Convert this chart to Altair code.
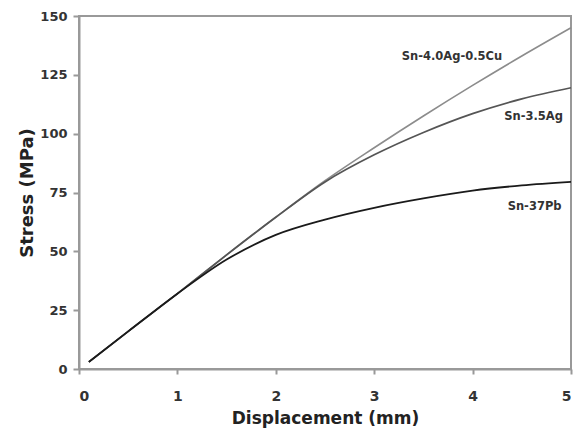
import altair as alt
import pandas as pd

# Data
disp = [0.1, 0.5, 1.0, 1.5, 2.0, 2.5, 3.0, 3.5, 4.0, 4.5, 5.0]
sac = [3, 16, 32, 48.5, 64.5, 80, 94, 107.5, 120.5, 133, 145]
snag = [3, 16, 32, 48.5, 64.5, 79.5, 91, 100.5, 108.5, 114.8, 119.5]
snpb = [3, 16, 32, 46.5, 57, 63.5, 68.5, 72.5, 75.8, 78, 79.5]

series_names = ["Sn-4.0Ag-0.5Cu", "Sn-3.5Ag", "Sn-37Pb"]
series_colors = ["#8c8c8c", "#555555", "#1a1a1a"]
series_widths = [1.6, 1.8, 2.2]

label_x = [3.79, 4.62, 4.63]
label_y = [132.6, 107.2, 68.8]

rows = []
for name, vals in zip(series_names, [sac, snag, snpb]):
    for x, y in zip(disp, vals):
        rows.append({"series": name, "disp": x, "stress": y})
df = pd.DataFrame(rows)

labels = pd.DataFrame({"series": series_names, "x": label_x, "y": label_y})

FONT = "DejaVu Sans"

xscale = alt.Scale(domain=[0, 5], nice=False, zero=True)
yscale = alt.Scale(domain=[0, 150], nice=False)

lines = alt.Chart(df).mark_line(interpolate="monotone").encode(
    x=alt.X("disp:Q", scale=xscale,
            axis=alt.Axis(title="Displacement (mm)", values=[0, 1, 2, 3, 4, 5],
                          format="d", titleX=246, titleY=49, titleBaseline="middle",
                          labelPadding=15, tickSize=5, labelFontSize=14)),
    y=alt.Y("stress:Q", scale=yscale,
            axis=alt.Axis(title="Stress (MPa)", values=[0, 25, 50, 75, 100, 125, 150],
                          format="d", titleX=-52, titleY=176.5, titleBaseline="middle",
                          labelPadding=6, tickSize=6, labelFontSize=13, titleFontSize=18)),
    color=alt.Color("series:N", scale=alt.Scale(domain=series_names, range=series_colors), legend=None),
    strokeWidth=alt.StrokeWidth("series:N", scale=alt.Scale(domain=series_names, range=series_widths), legend=None),
)

text = alt.Chart(labels).mark_text(font=FONT, fontWeight="bold", fontSize=11.5, color="#333333").encode(
    x=alt.X("x:Q", scale=xscale),
    y=alt.Y("y:Q", scale=yscale),
    text="series:N",
)

chart = alt.layer(lines, text).properties(
    width=492, height=353,
    autosize=alt.AutoSizeParams(type="none"),
    padding={"left": 79, "top": 16, "right": 8, "bottom": 59},
    background="white",
).configure_view(
    stroke="#999999", strokeWidth=2
).configure_axis(
    grid=False,
    domainColor="#999999", domainWidth=2,
    tickColor="#999999", tickWidth=2,
    labelFont=FONT, labelFontWeight="bold", labelColor="#333333",
    titleFont=FONT, titleFontWeight="bold", titleFontSize=17, titleColor="#222222",
)

chart.save("out.html", embed_options={"renderer": "svg", "actions": False})
